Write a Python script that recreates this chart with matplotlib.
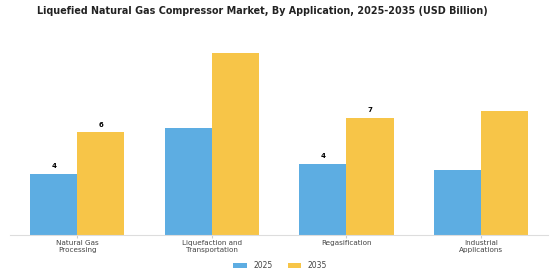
import numpy as np
import matplotlib.pyplot as plt

plt.rcParams['font.family'] = 'DejaVu Sans'

# 數據
categories = ['Natural Gas\nProcessing', 'Liquefaction and\nTransportation', 'Regasification', 'Industrial\nApplications']
v2025 = [3.7, 6.5, 4.3, 3.9]
v2035 = [6.2, 11.0, 7.1, 7.5]
lab2025 = ['4', '', '4', '']
lab2035 = ['6', '', '7', '']

fig = plt.figure(figsize=(5.6, 2.8), dpi=100)
ax = fig.add_axes([0.018, 0.161, 0.961, 0.714])

x = np.arange(len(categories))
w = 0.35
b1 = ax.bar(x - w/2, v2025, w, color='#5DADE2', label='2025')
b2 = ax.bar(x + w/2, v2035, w, color='#F7C548', label='2035')

for bars, labs in ((b1, lab2025), (b2, lab2035)):
    for b, t in zip(bars, labs):
        if t:
            ax.text(b.get_x() + b.get_width()/2, b.get_height() + 0.3, t,
                    ha='center', va='bottom', fontsize=5, fontweight='bold')

ax.set_xlim(-0.5, 3.5)
ax.set_ylim(0, 12.1)
ax.set_xticks(x)
ax.set_xticklabels(categories, fontsize=5.2, color='#444444')
ax.tick_params(axis='x', length=2, color='#cccccc', pad=1.5)
ax.set_yticks([])
for s in ['top', 'right', 'left']:
    ax.spines[s].set_visible(False)
ax.spines['bottom'].set_color('#dddddd')

fig.suptitle('Liquefied Natural Gas Compressor Market, By Application, 2025-2035 (USD Billion)',
             fontsize=6.9, fontweight='bold', x=0.468, y=0.978, color='#222222')
fig.legend(loc='lower center', ncol=2, fontsize=5.5, frameon=False,
           bbox_to_anchor=(0.5, 0.01), handlelength=1.8, handleheight=0.5,
           columnspacing=2.0, labelcolor='#444444')

fig.savefig('out.png', dpi=100)
